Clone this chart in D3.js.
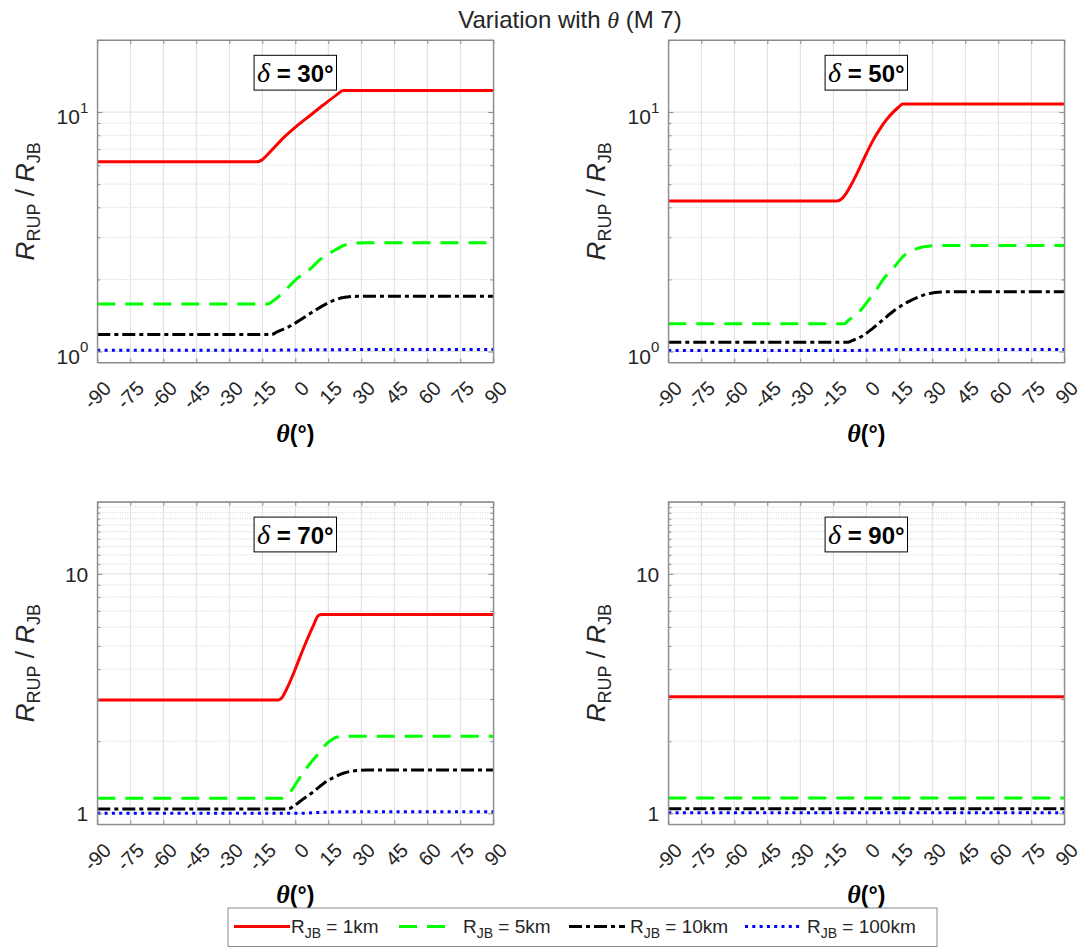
<!DOCTYPE html>
<html>
<head>
<meta charset="utf-8">
<script src="https://cdn.jsdelivr.net/npm/d3@7"></script>
<style>
  body { margin: 0; background: #fff; }
  svg { display: block; }
  text { font-family: "Liberation Sans", Arial, Helvetica, sans-serif; }
</style>
</head>
<body>
<svg id="chart" width="1081" height="947"></svg>
<script>
// ---- data -------------------------------------------------------------
const dips = [30, 50, 70, 90];
const rjbLabels = ["1km", "5km", "10km", "100km"];
const thetaTicks = [-90, -75, -60, -45, -30, -15, 0, 15, 30, 45, 60, 75, 90];
const yTicks = [1, 10];
const yTickLabelsTop = [["10", "0"], ["10", "1"]];
const yTickLabelsBottom = ["1", "10"];
const minorTicksTop = [2, 3, 4, 5, 6, 7, 8, 9];
const minorTicksBottom = [2, 3, 4, 5, 6, 7, 8, 9, 11, 12, 13, 14, 15, 16, 17, 18, 19];

// [theta (deg), R_RUP / R_JB]
// delta = 30
const dip30_rjb1 = [[-90, 6.20], [-17.6, 6.20], [-15.3, 6.30], [-13.0, 6.59], [-10.0, 7.05], [-5.5, 7.79],
  [0.6, 8.74], [6.7, 9.68], [12.7, 10.7], [18.8, 11.8], [21.8, 12.3], [90, 12.3]];
const dip30_rjb5 = [[-90, 1.58], [-12.5, 1.58], [-9.2, 1.65], [-3.9, 1.83], [0.6, 2.01], [6.7, 2.21],
  [11.2, 2.42], [17.3, 2.63], [23.3, 2.80], [27.9, 2.84], [32, 2.85], [90, 2.85]];
const dip30_rjb10 = [[-90, 1.178], [-10.8, 1.178], [-8.5, 1.205], [-2.4, 1.276], [3.6, 1.38], [9.7, 1.50],
  [15.8, 1.61], [21.8, 1.68], [27.9, 1.70], [32, 1.70], [90, 1.70]];
const dip30_rjb100 = [[-90, 1.013], [-15, 1.013], [10, 1.017], [30, 1.019], [90, 1.019]];
// delta = 50
const dip50_rjb1 = [[-90, 4.25], [-13.5, 4.25], [-11.2, 4.34], [-9, 4.6], [-6, 5.15], [-3, 5.85],
  [0, 6.7], [3, 7.6], [6, 8.45], [9, 9.25], [12, 9.95], [14.5, 10.45], [16.5, 10.8], [90, 10.8]];
const dip50_rjb5 = [[-90, 1.305], [-9.7, 1.305], [-8.9, 1.33], [-3.6, 1.45], [0.2, 1.60], [4.7, 1.82],
  [7.7, 2.00], [13.0, 2.27], [16.8, 2.50], [22.9, 2.69], [28.9, 2.76], [33, 2.77], [90, 2.77]];
const dip50_rjb10 = [[-90, 1.094], [-8.2, 1.094], [-6.7, 1.108], [-1.4, 1.167], [3.2, 1.256], [7.7, 1.36],
  [13.0, 1.49], [18.3, 1.60], [24.4, 1.70], [30.5, 1.76], [35, 1.775], [90, 1.775]];
const dip50_rjb100 = [[-90, 1.01], [-8, 1.01], [10, 1.018], [25, 1.02], [90, 1.02]];
// delta = 70
const dip70_rjb1 = [[-90, 2.975], [-7.7, 2.975], [-6.2, 3.03], [-3.9, 3.31], [-0.9, 3.82], [2.1, 4.49],
  [5.2, 5.27], [8.2, 6.08], [10.5, 6.70], [12.0, 6.76], [90, 6.76]];
const dip70_rjb5 = [[-90, 1.155], [-6.2, 1.155], [-4.7, 1.167], [-2.4, 1.224], [1.4, 1.38], [5.2, 1.55],
  [9.7, 1.74], [14.2, 1.95], [18.8, 2.08], [23.3, 2.10], [90, 2.10]];
const dip70_rjb10 = [[-90, 1.042], [-3.2, 1.042], [-0.9, 1.07], [3.6, 1.148], [8.2, 1.23], [12.7, 1.33],
  [17.3, 1.41], [21.8, 1.47], [27.9, 1.51], [32.4, 1.517], [90, 1.517]];
const dip70_rjb100 = [[-90, 1.0], [0, 1.0], [15, 1.012], [30, 1.016], [90, 1.016]];
// delta = 90
const dip90_rjb1 = [[-90, 3.07], [90, 3.07]];
const dip90_rjb5 = [[-90, 1.159], [90, 1.159]];
const dip90_rjb10 = [[-90, 1.046], [90, 1.046]];
const dip90_rjb100 = [[-90, 1.006], [90, 1.006]];

// ---- styles -----------------------------------------------------------
const seriesColors = ["#ff0000", "#00ff00", "#000000", "#0000ff"];
const seriesDash = [null, "18,10", "13,4,4,4", "3,4.3"];
const axisColor = "#8a8a8a";
const textColor = "#262626";

// ---- layout -----------------------------------------------------------
const svg = d3.select("#chart");
const W = 396, H = 322.5;
const colLeft = [97.3, 668.3];
const rowTop = [40, 501.8];

const panels = [
  { dip: dips[0], col: 0, row: 0, series: [dip30_rjb1, dip30_rjb5, dip30_rjb10, dip30_rjb100] },
  { dip: dips[1], col: 1, row: 0, series: [dip50_rjb1, dip50_rjb5, dip50_rjb10, dip50_rjb100] },
  { dip: dips[2], col: 0, row: 1, series: [dip70_rjb1, dip70_rjb5, dip70_rjb10, dip70_rjb100] },
  { dip: dips[3], col: 1, row: 1, series: [dip90_rjb1, dip90_rjb5, dip90_rjb10, dip90_rjb100] }
];

// figure title
const title = svg.append("text")
  .attr("x", 570).attr("y", 28)
  .attr("text-anchor", "middle")
  .attr("fill", textColor)
  .style("font-size", "24px");
title.append("tspan").text("Variation with\u00a0");
title.append("tspan").style("font-family", "'Liberation Serif', serif").style("font-style", "italic").text("θ");
title.append("tspan").text("\u00a0(M 7)");

panels.forEach((p, i) => {
  const g = svg.append("g").attr("transform", `translate(${colLeft[p.col]},${rowTop[p.row]})`);
  const x = d3.scaleLinear().domain([-90, 90]).range([0, W]);
  const y = d3.scaleLog().domain([0.9, 20]).range([H, 0]);
  const minor = p.row === 0 ? minorTicksTop : minorTicksBottom;

  // background
  g.append("rect").attr("width", W).attr("height", H).attr("fill", "#fff");

  // grid: minor (dotted), then major (solid)
  g.append("g").selectAll("line").data(minor).join("line")
    .attr("x1", 0).attr("x2", W)
    .attr("y1", d => y(d)).attr("y2", d => y(d))
    .attr("stroke", "#c4c4c4").attr("stroke-width", 0.8)
    .attr("stroke-dasharray", "1,1.5");
  g.append("g").selectAll("line").data(thetaTicks.slice(1, -1)).join("line")
    .attr("x1", d => x(d)).attr("x2", d => x(d))
    .attr("y1", 0).attr("y2", H)
    .attr("stroke", "#dedede").attr("stroke-width", 1);
  g.append("g").selectAll("line").data(yTicks).join("line")
    .attr("x1", 0).attr("x2", W)
    .attr("y1", d => y(d)).attr("y2", d => y(d))
    .attr("stroke", "#dedede").attr("stroke-width", 1);

  // series
  const clipId = "clip" + i;
  g.append("clipPath").attr("id", clipId).append("rect").attr("width", W).attr("height", H);
  const line = d3.line().x(d => x(d[0])).y(d => y(d[1])).curve(d3.curveMonotoneX);
  const lines = g.append("g").attr("clip-path", `url(#${clipId})`);
  p.series.forEach((s, k) => {
    lines.append("path")
      .attr("d", line(s))
      .attr("fill", "none")
      .attr("stroke", seriesColors[k])
      .attr("stroke-width", 3)
      .attr("stroke-linejoin", "round")
      .attr("stroke-dasharray", seriesDash[k]);
  });

  // axes (ticks pointing inward)
  const styleAxis = sel => {
    sel.select(".domain").attr("stroke", axisColor);
    sel.selectAll(".tick line").attr("stroke", axisColor);
  };
  const xb = g.append("g").attr("transform", `translate(0,${H})`)
    .call(d3.axisBottom(x).tickValues(thetaTicks).tickSizeInner(-4).tickSizeOuter(0)
      .tickFormat(d => String(d)));
  styleAxis(xb);
  xb.selectAll(".tick text")
    .attr("y", null).attr("dy", "0.35em").attr("x", null)
    .attr("text-anchor", "end")
    .attr("transform", "translate(9.7,22.3) rotate(-45)")
    .attr("fill", textColor)
    .style("font-size", "20px");
  const xt = g.append("g")
    .call(d3.axisTop(x).tickValues(thetaTicks).tickSizeInner(-4).tickSizeOuter(0).tickFormat(""));
  styleAxis(xt);

  const yl = g.append("g")
    .call(d3.axisLeft(y).tickValues(yTicks).tickSizeInner(-5).tickSizeOuter(0));
  styleAxis(yl);
  yl.selectAll(".tick text")
    .attr("x", -9).attr("fill", textColor).style("font-size", "21px")
    .each(function (d, j) {
      const t = d3.select(this).text(null);
      if (p.row === 0) {
        t.attr("dy", "0.55em");
        t.append("tspan").text(yTickLabelsTop[j][0]);
        t.append("tspan").attr("dy", "-0.75em").style("font-size", "15px").text(yTickLabelsTop[j][1]);
      } else {
        t.attr("dy", "0.35em").text(yTickLabelsBottom[j]);
      }
    });
  const yr = g.append("g").attr("transform", `translate(${W},0)`)
    .call(d3.axisRight(y).tickValues(yTicks).tickSizeInner(-5).tickSizeOuter(0).tickFormat(""));
  styleAxis(yr);
  [0, W].forEach((xx, side) => {
    g.append("g").attr("transform", `translate(${xx},0)`)
      .call((side === 0 ? d3.axisLeft(y) : d3.axisRight(y))
        .tickValues(minor).tickSizeInner(-3).tickSizeOuter(0).tickFormat(""))
      .call(sel => { sel.select(".domain").remove(); sel.selectAll(".tick line").attr("stroke", axisColor); });
  });

  // frame
  g.append("rect").attr("width", W).attr("height", H)
    .attr("fill", "none").attr("stroke", axisColor).attr("stroke-width", 1);

  // dip annotation box
  const ann = g.append("g").attr("transform", `translate(${W / 2},15.3)`);
  ann.append("rect").attr("x", -41.2).attr("y", 0).attr("width", 82.4).attr("height", 34.8)
    .attr("fill", "#fff").attr("stroke", "#000").attr("stroke-width", 1);
  const at = ann.append("text").attr("x", 0).attr("y", 26.5).attr("text-anchor", "middle")
    .attr("fill", "#000");
  at.append("tspan").style("font-family", "'Liberation Serif', serif").style("font-style", "italic")
    .style("font-size", "28px").text("δ");
  at.append("tspan").style("font-weight", "bold").style("font-size", "24px")
    .text("\u00a0=\u00a0" + p.dip + "°");

  // axis labels
  const xl = g.append("text").attr("x", W / 2).attr("y", H + 79).attr("text-anchor", "middle")
    .attr("fill", "#000");
  xl.append("tspan").style("font-family", "'Liberation Serif', serif").style("font-style", "italic")
    .style("font-weight", "bold").style("font-size", "26px").text("θ");
  xl.append("tspan").style("font-weight", "bold").style("font-size", "23px").text("(°)");

  const ylab = g.append("text")
    .attr("transform", `translate(${-63},${H / 2}) rotate(-90)`)
    .attr("text-anchor", "middle").attr("fill", textColor)
    .style("font-size", "26px");
  ylab.append("tspan").style("font-style", "italic").text("R");
  ylab.append("tspan").attr("dy", 6).style("font-size", "18px").text("RUP");
  ylab.append("tspan").attr("dy", -6).text("\u00a0/\u00a0");
  ylab.append("tspan").style("font-style", "italic").text("R");
  ylab.append("tspan").attr("dy", 6).style("font-size", "18px").text("JB");
});

// ---- legend -----------------------------------------------------------
const legend = svg.append("g");
const lgLeft = 228, lgRight = 937, lgTop = 908, lgBottom = 946.5;
legend.append("rect")
  .attr("x", lgLeft).attr("y", lgTop)
  .attr("width", lgRight - lgLeft).attr("height", lgBottom - lgTop)
  .attr("fill", "#fff").attr("stroke", axisColor).attr("stroke-width", 1);
const lineY = 926.5, sampleLen = 56;
const sampleStarts = [234, 399, 569, 745];
const labelStarts = [291, 463, 630, 807];
rjbLabels.forEach((lab, k) => {
  legend.append("line")
    .attr("x1", sampleStarts[k]).attr("x2", sampleStarts[k] + sampleLen)
    .attr("y1", lineY).attr("y2", lineY)
    .attr("stroke", seriesColors[k]).attr("stroke-width", 3)
    .attr("stroke-dasharray", seriesDash[k]);
  const t = legend.append("text").attr("x", labelStarts[k]).attr("y", 933)
    .attr("fill", textColor).style("font-size", "19px");
  t.append("tspan").text("R");
  t.append("tspan").attr("dy", 5).style("font-size", "14px").text("JB");
  t.append("tspan").attr("dy", -5).text("\u00a0=\u00a0" + lab);
});
</script>
</body>
</html>
